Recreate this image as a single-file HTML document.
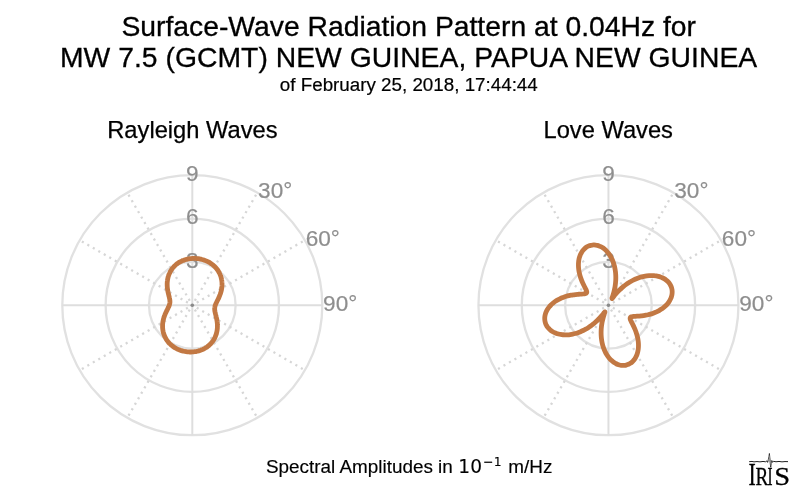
<!DOCTYPE html>
<html><head><meta charset="utf-8"><title>Surface-Wave Radiation Pattern</title>
<style>
html,body{margin:0;padding:0;background:#fff;}
body{width:800px;height:496px;overflow:hidden;}
svg{display:block;}
text{font-family:"Liberation Sans",Arial,Helvetica,sans-serif;fill:#000;}
.lab{font-size:22.6px;fill:#8e8e8e;stroke:#8e8e8e;stroke-width:0.2px;}
.t1{font-size:28.3px;stroke:#000;stroke-width:0.3px;}
.t2{font-size:18.8px;stroke:#000;stroke-width:0.2px;}
.st{font-size:23.7px;stroke:#000;stroke-width:0.25px;}
.bt{font-size:18.9px;stroke:#000;stroke-width:0.15px;}
.dj{font-family:"DejaVu Sans",sans-serif;stroke-width:0.1px;}
text.logo{stroke:#000;stroke-width:0.3px;font-family:"Liberation Serif","Times New Roman",serif;}
</style></head><body>
<svg width="800" height="496" viewBox="0 0 800 496">
<rect width="800" height="496" fill="#fff"/>
<text x="408.7" y="35.7" text-anchor="middle" class="t1">Surface-Wave Radiation Pattern at 0.04Hz for</text>
<text x="408.6" y="67" text-anchor="middle" class="t1" letter-spacing="0.03">MW 7.5 (GCMT) NEW GUINEA, PAPUA NEW GUINEA</text>
<text x="408.8" y="91.2" text-anchor="middle" class="t2">of February 25, 2018, 17:44:44</text>
<text x="192.4" y="137.5" text-anchor="middle" class="st">Rayleigh Waves</text>
<text x="608.2" y="137.5" text-anchor="middle" class="st">Love Waves</text>
<circle cx="192.3" cy="305.2" r="43.33" fill="none" stroke="#e1e1e1" stroke-width="2.3"/>
<circle cx="192.3" cy="305.2" r="86.67" fill="none" stroke="#e1e1e1" stroke-width="2.3"/>
<circle cx="192.3" cy="305.2" r="130.00" fill="none" stroke="#e1e1e1" stroke-width="2.3"/>
<line x1="62.30000000000001" y1="305.2" x2="322.3" y2="305.2" stroke="#dedede" stroke-width="2"/>
<line x1="192.3" y1="175.2" x2="192.3" y2="435.2" stroke="#dedede" stroke-width="2"/>
<line x1="192.3" y1="305.2" x2="257.30" y2="192.62" stroke="#d6d6d6" stroke-width="2.3" stroke-dasharray="2.1 4.23" stroke-dashoffset="1.2" stroke-linecap="butt"/>
<line x1="192.3" y1="305.2" x2="304.88" y2="240.20" stroke="#d6d6d6" stroke-width="2.3" stroke-dasharray="2.1 4.23" stroke-dashoffset="1.2" stroke-linecap="butt"/>
<line x1="192.3" y1="305.2" x2="304.88" y2="370.20" stroke="#d6d6d6" stroke-width="2.3" stroke-dasharray="2.1 4.23" stroke-dashoffset="1.2" stroke-linecap="butt"/>
<line x1="192.3" y1="305.2" x2="257.30" y2="417.78" stroke="#d6d6d6" stroke-width="2.3" stroke-dasharray="2.1 4.23" stroke-dashoffset="1.2" stroke-linecap="butt"/>
<line x1="192.3" y1="305.2" x2="127.30" y2="417.78" stroke="#d6d6d6" stroke-width="2.3" stroke-dasharray="2.1 4.23" stroke-dashoffset="1.2" stroke-linecap="butt"/>
<line x1="192.3" y1="305.2" x2="79.72" y2="370.20" stroke="#d6d6d6" stroke-width="2.3" stroke-dasharray="2.1 4.23" stroke-dashoffset="1.2" stroke-linecap="butt"/>
<line x1="192.3" y1="305.2" x2="79.72" y2="240.20" stroke="#d6d6d6" stroke-width="2.3" stroke-dasharray="2.1 4.23" stroke-dashoffset="1.2" stroke-linecap="butt"/>
<line x1="192.3" y1="305.2" x2="127.30" y2="192.62" stroke="#d6d6d6" stroke-width="2.3" stroke-dasharray="2.1 4.23" stroke-dashoffset="1.2" stroke-linecap="butt"/>
<circle cx="192.3" cy="305.2" r="1.8" fill="#8a8a8a"/>
<circle cx="608.45" cy="305.2" r="43.33" fill="none" stroke="#e1e1e1" stroke-width="2.3"/>
<circle cx="608.45" cy="305.2" r="86.67" fill="none" stroke="#e1e1e1" stroke-width="2.3"/>
<circle cx="608.45" cy="305.2" r="130.00" fill="none" stroke="#e1e1e1" stroke-width="2.3"/>
<line x1="478.45000000000005" y1="305.2" x2="738.45" y2="305.2" stroke="#dedede" stroke-width="2"/>
<line x1="608.45" y1="175.2" x2="608.45" y2="435.2" stroke="#dedede" stroke-width="2"/>
<line x1="608.45" y1="305.2" x2="673.45" y2="192.62" stroke="#d6d6d6" stroke-width="2.3" stroke-dasharray="2.1 4.23" stroke-dashoffset="1.2" stroke-linecap="butt"/>
<line x1="608.45" y1="305.2" x2="721.03" y2="240.20" stroke="#d6d6d6" stroke-width="2.3" stroke-dasharray="2.1 4.23" stroke-dashoffset="1.2" stroke-linecap="butt"/>
<line x1="608.45" y1="305.2" x2="721.03" y2="370.20" stroke="#d6d6d6" stroke-width="2.3" stroke-dasharray="2.1 4.23" stroke-dashoffset="1.2" stroke-linecap="butt"/>
<line x1="608.45" y1="305.2" x2="673.45" y2="417.78" stroke="#d6d6d6" stroke-width="2.3" stroke-dasharray="2.1 4.23" stroke-dashoffset="1.2" stroke-linecap="butt"/>
<line x1="608.45" y1="305.2" x2="543.45" y2="417.78" stroke="#d6d6d6" stroke-width="2.3" stroke-dasharray="2.1 4.23" stroke-dashoffset="1.2" stroke-linecap="butt"/>
<line x1="608.45" y1="305.2" x2="495.87" y2="370.20" stroke="#d6d6d6" stroke-width="2.3" stroke-dasharray="2.1 4.23" stroke-dashoffset="1.2" stroke-linecap="butt"/>
<line x1="608.45" y1="305.2" x2="495.87" y2="240.20" stroke="#d6d6d6" stroke-width="2.3" stroke-dasharray="2.1 4.23" stroke-dashoffset="1.2" stroke-linecap="butt"/>
<line x1="608.45" y1="305.2" x2="543.45" y2="192.62" stroke="#d6d6d6" stroke-width="2.3" stroke-dasharray="2.1 4.23" stroke-dashoffset="1.2" stroke-linecap="butt"/>
<circle cx="608.45" cy="305.2" r="1.8" fill="#8a8a8a"/>
<text x="192.3" y="267.77" text-anchor="middle" class="lab">3</text>
<text x="192.3" y="224.43" text-anchor="middle" class="lab">6</text>
<text x="192.3" y="181.10" text-anchor="middle" class="lab">9</text>
<text x="258.10" y="198.32" class="lab">30°</text>
<text x="305.68" y="245.90" class="lab">60°</text>
<text x="323.10" y="310.90" class="lab">90°</text>
<text x="608.45" y="267.77" text-anchor="middle" class="lab">3</text>
<text x="608.45" y="224.43" text-anchor="middle" class="lab">6</text>
<text x="608.45" y="181.10" text-anchor="middle" class="lab">9</text>
<text x="674.25" y="198.32" class="lab">30°</text>
<text x="721.83" y="245.90" class="lab">60°</text>
<text x="739.25" y="310.90" class="lab">90°</text>
<path d="M192.30 258.46 C192.71 258.44 193.12 258.42 193.53 258.42 C193.93 258.41 194.34 258.41 194.75 258.42 C195.16 258.43 195.57 258.45 195.98 258.48 C196.39 258.50 196.79 258.54 197.20 258.58 C197.61 258.62 198.01 258.67 198.42 258.73 C198.82 258.78 199.23 258.85 199.63 258.92 C200.03 259.00 200.43 259.08 200.83 259.17 C201.23 259.26 201.63 259.35 202.02 259.46 C202.42 259.56 202.81 259.68 203.20 259.80 C203.59 259.92 203.98 260.04 204.36 260.18 C204.75 260.32 205.13 260.46 205.51 260.61 C205.89 260.76 206.26 260.92 206.63 261.09 C207.00 261.26 207.37 261.43 207.74 261.61 C208.10 261.79 208.46 261.98 208.81 262.18 C209.17 262.38 209.52 262.58 209.87 262.79 C210.21 263.01 210.55 263.22 210.89 263.45 C211.22 263.68 211.55 263.91 211.88 264.15 C212.20 264.39 212.52 264.64 212.84 264.90 C213.15 265.15 213.46 265.41 213.76 265.68 C214.06 265.95 214.35 266.23 214.64 266.51 C214.93 266.79 215.21 267.08 215.48 267.38 C215.75 267.67 216.02 267.97 216.28 268.28 C216.54 268.59 216.79 268.90 217.03 269.22 C217.27 269.54 217.51 269.86 217.73 270.19 C217.96 270.52 218.18 270.86 218.39 271.20 C218.60 271.54 218.80 271.89 218.99 272.24 C219.19 272.59 219.37 272.94 219.54 273.30 C219.72 273.66 219.89 274.02 220.04 274.39 C220.20 274.76 220.35 275.13 220.48 275.50 C220.62 275.87 220.75 276.25 220.87 276.63 C220.99 277.01 221.10 277.39 221.20 277.77 C221.30 278.16 221.39 278.54 221.48 278.93 C221.56 279.32 221.63 279.71 221.69 280.10 C221.76 280.49 221.81 280.88 221.85 281.27 C221.90 281.66 221.94 282.05 221.96 282.44 C221.99 282.83 222.01 283.22 222.01 283.61 C222.02 284.00 222.02 284.39 222.02 284.78 C222.01 285.16 221.99 285.55 221.97 285.93 C221.94 286.32 221.91 286.70 221.87 287.08 C221.83 287.46 221.78 287.84 221.73 288.21 C221.67 288.58 221.61 288.96 221.54 289.32 C221.47 289.69 221.40 290.05 221.32 290.41 C221.24 290.77 221.15 291.13 221.06 291.48 C220.97 291.83 220.87 292.18 220.77 292.53 C220.67 292.87 220.56 293.21 220.45 293.54 C220.34 293.87 220.22 294.20 220.11 294.53 C219.99 294.85 219.87 295.17 219.74 295.48 C219.62 295.79 219.50 296.10 219.37 296.40 C219.24 296.71 219.11 297.00 218.98 297.30 C218.85 297.59 218.72 297.87 218.59 298.16 C218.46 298.44 218.33 298.71 218.20 298.98 C218.07 299.25 217.94 299.52 217.81 299.78 C217.68 300.04 217.56 300.29 217.43 300.54 C217.31 300.79 217.18 301.04 217.06 301.28 C216.94 301.52 216.82 301.75 216.71 301.99 C216.59 302.22 216.48 302.45 216.38 302.67 C216.27 302.89 216.16 303.11 216.06 303.33 C215.97 303.55 215.87 303.76 215.78 303.97 C215.69 304.18 215.60 304.39 215.52 304.59 C215.44 304.80 215.37 305.00 215.30 305.20 C215.23 305.40 215.17 305.60 215.11 305.80 C215.05 306.00 215.00 306.19 214.95 306.39 C214.90 306.58 214.86 306.78 214.83 306.97 C214.79 307.17 214.76 307.36 214.74 307.56 C214.71 307.75 214.70 307.95 214.68 308.15 C214.67 308.34 214.67 308.54 214.67 308.74 C214.67 308.94 214.67 309.14 214.68 309.35 C214.69 309.55 214.71 309.76 214.73 309.97 C214.75 310.18 214.78 310.39 214.81 310.60 C214.84 310.82 214.87 311.04 214.91 311.26 C214.95 311.48 215.00 311.71 215.04 311.94 C215.09 312.17 215.14 312.40 215.20 312.64 C215.25 312.88 215.31 313.12 215.37 313.37 C215.43 313.62 215.49 313.87 215.55 314.13 C215.62 314.38 215.69 314.65 215.75 314.91 C215.82 315.18 215.89 315.45 215.96 315.73 C216.03 316.01 216.10 316.29 216.16 316.58 C216.23 316.87 216.30 317.16 216.37 317.46 C216.44 317.76 216.50 318.07 216.57 318.38 C216.63 318.69 216.70 319.00 216.76 319.32 C216.82 319.64 216.88 319.96 216.93 320.29 C216.98 320.62 217.04 320.96 217.08 321.29 C217.13 321.63 217.17 321.98 217.21 322.32 C217.25 322.67 217.29 323.02 217.31 323.37 C217.34 323.73 217.37 324.09 217.38 324.45 C217.40 324.81 217.41 325.17 217.42 325.54 C217.42 325.91 217.42 326.28 217.42 326.65 C217.41 327.02 217.39 327.40 217.37 327.77 C217.35 328.15 217.32 328.53 217.28 328.90 C217.24 329.28 217.20 329.66 217.14 330.04 C217.09 330.42 217.03 330.80 216.96 331.18 C216.89 331.56 216.81 331.94 216.72 332.32 C216.63 332.70 216.54 333.08 216.43 333.46 C216.33 333.83 216.22 334.21 216.09 334.58 C215.97 334.96 215.84 335.33 215.70 335.70 C215.56 336.07 215.41 336.43 215.25 336.79 C215.10 337.16 214.93 337.52 214.75 337.87 C214.58 338.23 214.39 338.58 214.20 338.93 C214.01 339.27 213.81 339.62 213.60 339.95 C213.39 340.29 213.17 340.63 212.94 340.95 C212.72 341.28 212.48 341.60 212.24 341.92 C211.99 342.24 211.74 342.55 211.48 342.85 C211.23 343.16 210.96 343.45 210.69 343.75 C210.41 344.04 210.13 344.32 209.84 344.60 C209.55 344.88 209.26 345.15 208.96 345.41 C208.66 345.68 208.35 345.93 208.03 346.18 C207.72 346.43 207.40 346.68 207.07 346.91 C206.74 347.14 206.41 347.37 206.07 347.59 C205.74 347.81 205.39 348.02 205.04 348.22 C204.70 348.42 204.34 348.62 203.98 348.81 C203.63 348.99 203.26 349.17 202.90 349.34 C202.53 349.51 202.16 349.67 201.79 349.83 C201.41 349.98 201.03 350.13 200.65 350.27 C200.27 350.40 199.89 350.53 199.50 350.65 C199.11 350.77 198.72 350.89 198.33 350.99 C197.94 351.10 197.54 351.19 197.14 351.28 C196.75 351.37 196.35 351.45 195.95 351.52 C195.54 351.59 195.14 351.65 194.74 351.71 C194.33 351.76 193.93 351.81 193.52 351.85 C193.12 351.89 192.71 351.92 192.30 351.94 C191.89 351.96 191.48 351.98 191.07 351.98 C190.67 351.99 190.26 351.99 189.85 351.98 C189.44 351.97 189.03 351.95 188.62 351.92 C188.21 351.90 187.81 351.86 187.40 351.82 C186.99 351.78 186.59 351.73 186.18 351.67 C185.78 351.62 185.37 351.55 184.97 351.48 C184.57 351.40 184.17 351.32 183.77 351.23 C183.37 351.14 182.97 351.05 182.58 350.94 C182.18 350.84 181.79 350.72 181.40 350.60 C181.01 350.48 180.62 350.36 180.24 350.22 C179.85 350.08 179.47 349.94 179.09 349.79 C178.71 349.64 178.34 349.48 177.97 349.31 C177.60 349.14 177.23 348.97 176.86 348.79 C176.50 348.61 176.14 348.42 175.79 348.22 C175.43 348.02 175.08 347.82 174.73 347.61 C174.39 347.39 174.05 347.18 173.71 346.95 C173.38 346.72 173.05 346.49 172.72 346.25 C172.40 346.01 172.08 345.76 171.76 345.50 C171.45 345.25 171.14 344.99 170.84 344.72 C170.54 344.45 170.25 344.17 169.96 343.89 C169.67 343.61 169.39 343.32 169.12 343.02 C168.85 342.73 168.58 342.43 168.32 342.12 C168.06 341.81 167.81 341.50 167.57 341.18 C167.33 340.86 167.09 340.54 166.87 340.21 C166.64 339.88 166.42 339.54 166.21 339.20 C166.00 338.86 165.80 338.51 165.61 338.16 C165.41 337.81 165.23 337.46 165.06 337.10 C164.88 336.74 164.71 336.38 164.56 336.01 C164.40 335.64 164.25 335.27 164.12 334.90 C163.98 334.53 163.85 334.15 163.73 333.77 C163.61 333.39 163.50 333.01 163.40 332.63 C163.30 332.24 163.21 331.86 163.12 331.47 C163.04 331.08 162.97 330.69 162.91 330.30 C162.84 329.91 162.79 329.52 162.75 329.13 C162.70 328.74 162.66 328.35 162.64 327.96 C162.61 327.57 162.59 327.18 162.59 326.79 C162.58 326.40 162.58 326.01 162.58 325.62 C162.59 325.24 162.61 324.85 162.63 324.47 C162.66 324.08 162.69 323.70 162.73 323.32 C162.77 322.94 162.82 322.56 162.87 322.19 C162.93 321.82 162.99 321.44 163.06 321.08 C163.13 320.71 163.20 320.35 163.28 319.99 C163.36 319.63 163.45 319.27 163.54 318.92 C163.63 318.57 163.73 318.22 163.83 317.87 C163.93 317.53 164.04 317.19 164.15 316.86 C164.26 316.53 164.38 316.20 164.49 315.87 C164.61 315.55 164.73 315.23 164.86 314.92 C164.98 314.61 165.10 314.30 165.23 314.00 C165.36 313.69 165.49 313.40 165.62 313.10 C165.75 312.81 165.88 312.53 166.01 312.24 C166.14 311.96 166.27 311.69 166.40 311.42 C166.53 311.15 166.66 310.88 166.79 310.62 C166.92 310.36 167.04 310.11 167.17 309.86 C167.29 309.61 167.42 309.36 167.54 309.12 C167.66 308.88 167.78 308.65 167.89 308.41 C168.01 308.18 168.12 307.95 168.22 307.73 C168.33 307.51 168.44 307.29 168.54 307.07 C168.63 306.85 168.73 306.64 168.82 306.43 C168.91 306.22 169.00 306.01 169.08 305.81 C169.16 305.60 169.23 305.40 169.30 305.20 C169.37 305.00 169.43 304.80 169.49 304.60 C169.55 304.40 169.60 304.21 169.65 304.01 C169.70 303.82 169.74 303.62 169.77 303.43 C169.81 303.23 169.84 303.04 169.86 302.84 C169.89 302.65 169.90 302.45 169.92 302.25 C169.93 302.06 169.93 301.86 169.93 301.66 C169.93 301.46 169.93 301.26 169.92 301.05 C169.91 300.85 169.89 300.64 169.87 300.43 C169.85 300.22 169.82 300.01 169.79 299.80 C169.76 299.58 169.73 299.36 169.69 299.14 C169.65 298.92 169.60 298.69 169.56 298.46 C169.51 298.23 169.46 298.00 169.40 297.76 C169.35 297.52 169.29 297.28 169.23 297.03 C169.17 296.78 169.11 296.53 169.05 296.27 C168.98 296.02 168.91 295.75 168.85 295.49 C168.78 295.22 168.71 294.95 168.64 294.67 C168.57 294.39 168.50 294.11 168.44 293.82 C168.37 293.53 168.30 293.24 168.23 292.94 C168.16 292.64 168.10 292.33 168.03 292.02 C167.97 291.71 167.90 291.40 167.84 291.08 C167.78 290.76 167.72 290.44 167.67 290.11 C167.62 289.78 167.56 289.44 167.52 289.11 C167.47 288.77 167.43 288.42 167.39 288.08 C167.35 287.73 167.31 287.38 167.29 287.03 C167.26 286.67 167.23 286.31 167.22 285.95 C167.20 285.59 167.19 285.23 167.18 284.86 C167.18 284.49 167.18 284.12 167.18 283.75 C167.19 283.38 167.21 283.00 167.23 282.63 C167.25 282.25 167.28 281.87 167.32 281.50 C167.36 281.12 167.40 280.74 167.46 280.36 C167.51 279.98 167.57 279.60 167.64 279.22 C167.71 278.84 167.79 278.46 167.88 278.08 C167.97 277.70 168.06 277.32 168.17 276.94 C168.27 276.57 168.38 276.19 168.51 275.82 C168.63 275.44 168.76 275.07 168.90 274.70 C169.04 274.33 169.19 273.97 169.35 273.61 C169.50 273.24 169.67 272.88 169.85 272.53 C170.02 272.17 170.21 271.82 170.40 271.47 C170.59 271.13 170.79 270.78 171.00 270.45 C171.21 270.11 171.43 269.77 171.66 269.45 C171.88 269.12 172.12 268.80 172.36 268.48 C172.61 268.16 172.86 267.85 173.12 267.55 C173.37 267.24 173.64 266.95 173.91 266.65 C174.19 266.36 174.47 266.08 174.76 265.80 C175.05 265.52 175.34 265.25 175.64 264.99 C175.94 264.72 176.25 264.47 176.57 264.22 C176.88 263.97 177.20 263.72 177.53 263.49 C177.86 263.26 178.19 263.03 178.53 262.81 C178.86 262.59 179.21 262.38 179.56 262.18 C179.90 261.98 180.26 261.78 180.62 261.59 C180.97 261.41 181.34 261.23 181.70 261.06 C182.07 260.89 182.44 260.73 182.81 260.57 C183.19 260.42 183.57 260.27 183.95 260.13 C184.33 260.00 184.71 259.87 185.10 259.75 C185.49 259.63 185.88 259.51 186.27 259.41 C186.66 259.30 187.06 259.21 187.46 259.12 C187.85 259.03 188.25 258.95 188.65 258.88 C189.06 258.81 189.46 258.75 189.86 258.69 C190.27 258.64 190.67 258.59 191.08 258.55 C191.48 258.51 191.89 258.48 192.30 258.46 Z" fill="none" stroke="#c27843" stroke-width="4.8" stroke-linejoin="round"/>
<path d="M608.45 253.24 C608.90 253.84 609.34 254.46 609.76 255.11 C610.18 255.75 610.59 256.43 610.97 257.13 C611.35 257.83 611.72 258.56 612.06 259.31 C612.40 260.06 612.73 260.84 613.03 261.63 C613.33 262.43 613.61 263.24 613.86 264.08 C614.12 264.92 614.35 265.77 614.56 266.65 C614.76 267.52 614.94 268.41 615.10 269.32 C615.26 270.22 615.39 271.14 615.49 272.07 C615.60 273.00 615.67 273.95 615.72 274.90 C615.78 275.85 615.80 276.81 615.80 277.78 C615.80 278.74 615.77 279.72 615.71 280.69 C615.66 281.66 615.57 282.64 615.47 283.61 C615.36 284.58 615.22 285.55 615.07 286.51 C614.91 287.47 614.73 288.42 614.53 289.35 C614.34 290.28 614.11 291.21 613.88 292.08 C613.66 292.96 613.40 293.83 613.17 294.60 C612.93 295.38 612.67 296.15 612.48 296.75 C612.29 297.35 612.09 297.90 612.02 298.20 C611.94 298.51 611.93 298.64 612.05 298.57 C612.17 298.50 612.41 298.18 612.73 297.78 C613.05 297.39 613.49 296.80 613.95 296.22 C614.42 295.63 614.97 294.95 615.54 294.28 C616.11 293.61 616.74 292.90 617.38 292.21 C618.02 291.52 618.70 290.81 619.40 290.13 C620.10 289.45 620.82 288.77 621.56 288.11 C622.31 287.45 623.07 286.81 623.85 286.19 C624.62 285.57 625.42 284.96 626.23 284.39 C627.03 283.81 627.86 283.25 628.68 282.73 C629.51 282.20 630.36 281.70 631.20 281.22 C632.05 280.75 632.91 280.30 633.76 279.89 C634.62 279.47 635.49 279.08 636.35 278.72 C637.22 278.36 638.09 278.03 638.96 277.73 C639.82 277.43 640.69 277.16 641.56 276.92 C642.42 276.69 643.28 276.48 644.14 276.30 C644.99 276.12 645.84 275.98 646.68 275.86 C647.52 275.75 648.36 275.66 649.18 275.61 C650.00 275.55 650.81 275.53 651.61 275.54 C652.41 275.54 653.20 275.58 653.97 275.64 C654.74 275.71 655.49 275.80 656.23 275.92 C656.97 276.04 657.69 276.19 658.39 276.37 C659.08 276.55 659.77 276.75 660.42 276.98 C661.08 277.21 661.72 277.47 662.33 277.75 C662.94 278.03 663.53 278.33 664.10 278.66 C664.66 278.99 665.20 279.34 665.71 279.71 C666.22 280.08 666.70 280.47 667.16 280.88 C667.61 281.29 668.04 281.73 668.44 282.17 C668.84 282.62 669.20 283.09 669.54 283.57 C669.88 284.05 670.18 284.54 670.45 285.05 C670.73 285.56 670.97 286.09 671.18 286.62 C671.39 287.15 671.57 287.70 671.71 288.25 C671.85 288.80 671.96 289.37 672.04 289.93 C672.12 290.50 672.16 291.08 672.17 291.66 C672.18 292.23 672.16 292.82 672.10 293.40 C672.04 293.99 671.95 294.58 671.83 295.16 C671.70 295.75 671.55 296.34 671.36 296.92 C671.17 297.50 670.94 298.08 670.69 298.66 C670.44 299.23 670.15 299.81 669.83 300.37 C669.52 300.93 669.17 301.49 668.79 302.04 C668.41 302.58 668.00 303.12 667.57 303.65 C667.13 304.18 666.67 304.70 666.18 305.20 C665.69 305.70 665.17 306.20 664.62 306.67 C664.08 307.15 663.51 307.61 662.92 308.05 C662.33 308.50 661.72 308.93 661.09 309.34 C660.45 309.75 659.80 310.15 659.12 310.53 C658.45 310.90 657.76 311.26 657.06 311.60 C656.35 311.94 655.63 312.26 654.90 312.56 C654.17 312.86 653.42 313.14 652.67 313.40 C651.92 313.66 651.16 313.90 650.39 314.12 C649.63 314.34 648.86 314.53 648.09 314.72 C647.32 314.90 646.54 315.06 645.78 315.20 C645.02 315.35 644.25 315.47 643.50 315.58 C642.75 315.69 642.00 315.78 641.28 315.87 C640.55 315.95 639.84 316.01 639.15 316.07 C638.46 316.13 637.79 316.17 637.15 316.22 C636.52 316.26 635.90 316.29 635.33 316.33 C634.76 316.37 634.22 316.41 633.73 316.45 C633.23 316.50 632.78 316.55 632.38 316.61 C631.98 316.68 631.63 316.76 631.33 316.86 C631.04 316.96 630.79 317.08 630.61 317.23 C630.42 317.38 630.29 317.55 630.21 317.76 C630.13 317.97 630.12 318.21 630.14 318.49 C630.16 318.77 630.24 319.08 630.35 319.42 C630.46 319.77 630.62 320.15 630.81 320.56 C630.99 320.98 631.21 321.43 631.45 321.91 C631.68 322.39 631.95 322.90 632.22 323.44 C632.49 323.97 632.78 324.54 633.07 325.13 C633.35 325.72 633.65 326.34 633.94 326.97 C634.23 327.61 634.53 328.26 634.81 328.93 C635.09 329.61 635.37 330.30 635.63 331.00 C635.90 331.70 636.15 332.41 636.39 333.14 C636.62 333.86 636.84 334.59 637.04 335.33 C637.24 336.07 637.43 336.82 637.59 337.56 C637.75 338.31 637.90 339.06 638.01 339.81 C638.13 340.56 638.23 341.32 638.30 342.06 C638.37 342.81 638.42 343.56 638.45 344.29 C638.47 345.03 638.47 345.76 638.45 346.49 C638.42 347.21 638.37 347.93 638.30 348.63 C638.22 349.33 638.12 350.02 638.00 350.70 C637.87 351.37 637.72 352.04 637.55 352.68 C637.37 353.33 637.18 353.96 636.95 354.57 C636.73 355.18 636.49 355.77 636.22 356.34 C635.95 356.92 635.66 357.47 635.35 357.99 C635.04 358.52 634.70 359.02 634.35 359.50 C634.00 359.98 633.62 360.44 633.23 360.86 C632.84 361.29 632.43 361.69 632.00 362.06 C631.58 362.43 631.13 362.78 630.67 363.09 C630.21 363.41 629.74 363.69 629.25 363.94 C628.77 364.20 628.26 364.42 627.75 364.61 C627.24 364.80 626.72 364.96 626.19 365.09 C625.66 365.22 625.12 365.31 624.57 365.37 C624.03 365.43 623.47 365.46 622.92 365.45 C622.36 365.45 621.79 365.40 621.23 365.33 C620.67 365.26 620.10 365.15 619.53 365.01 C618.97 364.86 618.40 364.69 617.84 364.48 C617.28 364.27 616.71 364.02 616.16 363.74 C615.60 363.47 615.05 363.15 614.51 362.81 C613.96 362.47 613.42 362.09 612.90 361.68 C612.37 361.27 611.85 360.83 611.34 360.36 C610.83 359.89 610.34 359.38 609.85 358.85 C609.37 358.31 608.90 357.75 608.45 357.16 C608.00 356.56 607.56 355.94 607.14 355.29 C606.72 354.65 606.31 353.97 605.93 353.27 C605.55 352.57 605.18 351.84 604.84 351.09 C604.50 350.34 604.17 349.56 603.87 348.77 C603.57 347.97 603.29 347.16 603.04 346.32 C602.78 345.48 602.55 344.63 602.34 343.75 C602.14 342.88 601.96 341.99 601.80 341.08 C601.64 340.18 601.51 339.26 601.41 338.33 C601.30 337.40 601.23 336.45 601.18 335.50 C601.12 334.55 601.10 333.59 601.10 332.62 C601.10 331.66 601.13 330.68 601.19 329.71 C601.24 328.74 601.33 327.76 601.43 326.79 C601.54 325.82 601.68 324.85 601.83 323.89 C601.99 322.93 602.17 321.98 602.37 321.05 C602.56 320.12 602.79 319.19 603.02 318.32 C603.24 317.44 603.50 316.57 603.73 315.80 C603.97 315.02 604.23 314.25 604.42 313.65 C604.61 313.05 604.81 312.50 604.88 312.20 C604.96 311.89 604.97 311.76 604.85 311.83 C604.73 311.90 604.49 312.22 604.17 312.62 C603.85 313.01 603.41 313.60 602.95 314.18 C602.48 314.77 601.93 315.45 601.36 316.12 C600.79 316.79 600.16 317.50 599.52 318.19 C598.88 318.88 598.20 319.59 597.50 320.27 C596.80 320.95 596.08 321.63 595.34 322.29 C594.59 322.95 593.83 323.59 593.05 324.21 C592.28 324.83 591.48 325.44 590.67 326.01 C589.87 326.59 589.04 327.15 588.22 327.67 C587.39 328.20 586.54 328.70 585.70 329.18 C584.85 329.65 583.99 330.10 583.14 330.51 C582.28 330.93 581.41 331.32 580.55 331.68 C579.68 332.04 578.81 332.37 577.94 332.67 C577.08 332.97 576.21 333.24 575.34 333.48 C574.48 333.71 573.62 333.92 572.76 334.10 C571.91 334.28 571.06 334.42 570.22 334.54 C569.38 334.65 568.54 334.74 567.72 334.79 C566.90 334.85 566.09 334.87 565.29 334.86 C564.49 334.86 563.70 334.82 562.93 334.76 C562.16 334.69 561.41 334.60 560.67 334.48 C559.93 334.36 559.21 334.21 558.51 334.03 C557.82 333.85 557.13 333.65 556.48 333.42 C555.82 333.19 555.18 332.93 554.57 332.65 C553.96 332.37 553.37 332.07 552.80 331.74 C552.24 331.41 551.70 331.06 551.19 330.69 C550.68 330.32 550.20 329.93 549.74 329.52 C549.29 329.11 548.86 328.67 548.46 328.23 C548.06 327.78 547.70 327.31 547.36 326.83 C547.02 326.35 546.72 325.86 546.45 325.35 C546.17 324.84 545.93 324.31 545.72 323.78 C545.51 323.25 545.33 322.70 545.19 322.15 C545.05 321.60 544.94 321.03 544.86 320.47 C544.78 319.90 544.74 319.32 544.73 318.74 C544.72 318.17 544.74 317.58 544.80 317.00 C544.86 316.41 544.95 315.82 545.07 315.24 C545.20 314.65 545.35 314.06 545.54 313.48 C545.73 312.90 545.96 312.32 546.21 311.74 C546.46 311.17 546.75 310.59 547.07 310.03 C547.38 309.47 547.73 308.91 548.11 308.36 C548.49 307.82 548.90 307.28 549.33 306.75 C549.77 306.22 550.23 305.70 550.72 305.20 C551.21 304.70 551.73 304.20 552.28 303.73 C552.82 303.25 553.39 302.79 553.98 302.35 C554.57 301.90 555.18 301.47 555.81 301.06 C556.45 300.65 557.10 300.25 557.78 299.87 C558.45 299.50 559.14 299.14 559.84 298.80 C560.55 298.46 561.27 298.14 562.00 297.84 C562.73 297.54 563.48 297.26 564.23 297.00 C564.98 296.74 565.74 296.50 566.51 296.28 C567.27 296.06 568.04 295.87 568.81 295.68 C569.58 295.50 570.36 295.34 571.12 295.20 C571.88 295.05 572.65 294.93 573.40 294.82 C574.15 294.71 574.90 294.62 575.62 294.53 C576.35 294.45 577.06 294.39 577.75 294.33 C578.44 294.27 579.11 294.23 579.75 294.18 C580.38 294.14 581.00 294.11 581.57 294.07 C582.14 294.03 582.68 293.99 583.17 293.95 C583.67 293.90 584.12 293.85 584.52 293.79 C584.92 293.72 585.27 293.64 585.57 293.54 C585.86 293.44 586.11 293.32 586.29 293.17 C586.48 293.02 586.61 292.85 586.69 292.64 C586.77 292.43 586.78 292.19 586.76 291.91 C586.74 291.63 586.66 291.32 586.55 290.98 C586.44 290.63 586.28 290.25 586.09 289.84 C585.91 289.42 585.69 288.97 585.45 288.49 C585.22 288.01 584.95 287.50 584.68 286.96 C584.41 286.43 584.12 285.86 583.83 285.27 C583.55 284.68 583.25 284.06 582.96 283.43 C582.67 282.79 582.37 282.14 582.09 281.47 C581.81 280.79 581.53 280.10 581.27 279.40 C581.00 278.70 580.75 277.99 580.51 277.26 C580.28 276.54 580.06 275.81 579.86 275.07 C579.66 274.33 579.47 273.58 579.31 272.84 C579.15 272.09 579.00 271.34 578.89 270.59 C578.77 269.84 578.67 269.08 578.60 268.34 C578.53 267.59 578.48 266.84 578.45 266.11 C578.43 265.37 578.43 264.64 578.45 263.91 C578.48 263.19 578.53 262.47 578.60 261.77 C578.68 261.07 578.78 260.38 578.90 259.70 C579.03 259.03 579.18 258.36 579.35 257.72 C579.53 257.07 579.72 256.44 579.95 255.83 C580.17 255.22 580.41 254.63 580.68 254.06 C580.95 253.48 581.24 252.93 581.55 252.41 C581.86 251.88 582.20 251.38 582.55 250.90 C582.90 250.42 583.28 249.96 583.67 249.54 C584.06 249.11 584.47 248.71 584.90 248.34 C585.32 247.97 585.77 247.62 586.23 247.31 C586.69 246.99 587.16 246.71 587.65 246.46 C588.13 246.20 588.64 245.98 589.15 245.79 C589.66 245.60 590.18 245.44 590.71 245.31 C591.24 245.18 591.78 245.09 592.33 245.03 C592.87 244.97 593.43 244.94 593.98 244.95 C594.54 244.95 595.11 245.00 595.67 245.07 C596.23 245.14 596.80 245.25 597.37 245.39 C597.93 245.54 598.50 245.71 599.06 245.92 C599.62 246.13 600.19 246.38 600.74 246.66 C601.30 246.93 601.85 247.25 602.39 247.59 C602.94 247.93 603.48 248.31 604.00 248.72 C604.53 249.13 605.05 249.57 605.56 250.04 C606.07 250.51 606.56 251.02 607.05 251.55 C607.53 252.09 608.00 252.65 608.45 253.24 Z" fill="none" stroke="#c27843" stroke-width="4.8" stroke-linejoin="round"/>
<text x="265.9" y="473.2" class="bt">Spectral Amplitudes in<tspan class="dj" x="458.3" font-size="18.6px">10</tspan><tspan class="dj" x="482.9" font-size="12.4px" dy="-7">−</tspan><tspan class="dj" x="493.8" font-size="12.4px">1</tspan><tspan x="508.3" dy="7">m/Hz</tspan></text>
<g role="img" aria-label="IRIS"><title>IRIS</title>
<path d="M749.2 461.9 L752 461.7 L754 462.1 L757 461.8 L760 462.1 L763 461.7 L765.5 462 L766.8 461.2 L767.6 462.6 L768.3 460 L769 457 L769.4 453.8 L769.8 458 L770.3 464 L770.7 467.4 L771.2 463.5 L771.8 460.8 L772.6 462.6 L773.5 461.6 L776 462 L779 461.7 L782 462.1 L785 461.8 L788 461.9" fill="none" stroke="#222" stroke-width="1.0" stroke-linejoin="round" transform="translate(0 -0.25)"/>
<path d="M768.2 461.5 L769.4 454 L770.8 467 L771.6 461.5 Z" fill="#999" stroke="none"/>
<text class="logo" transform="translate(748.40 484.7) scale(0.705 1.000)" font-size="31px">I</text>
<text class="logo" transform="translate(755.50 484.7) scale(0.760 1.000)" font-size="25.2px">R</text>
<text class="logo" transform="translate(767.60 484.7) scale(0.600 1.000)" font-size="25.2px">I</text>
<text class="logo" transform="translate(774.30 484.7) scale(1.140 1.000)" font-size="25px">S</text>
</g>
</svg></body></html>
